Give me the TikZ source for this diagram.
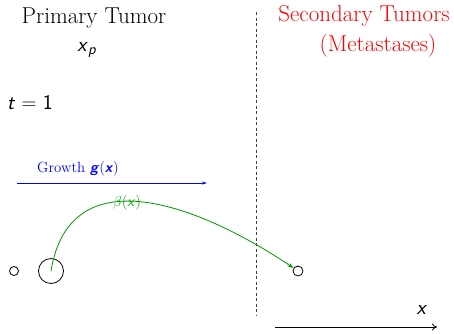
\documentclass[tikz,border=0pt]{standalone}
\usetikzlibrary{arrows.meta}
\newcommand\svar[1]{\textsf{\itshape #1}}
\begin{document}
\begin{tikzpicture}[x=1pt,y=-1pt,
  big/.style={font=\fontsize{23}{27}\selectfont},
  mth/.style={font=\fontsize{21}{25}\selectfont},
  small/.style={font=\fontsize{14.8}{17}\selectfont},
  tumor/.style={circle,draw,inner sep=0pt,line width=0.8pt}]
\useasboundingbox (0,0) rectangle (454,333);
\node[big] (pt) at (94,18) {Primary Tumor};
\node[mth] (xp) at (87,50) {\svar{x}$_{\mbox{\fontsize{15}{17}\selectfont\svar{p}}}$};
\node[mth] (t1) at (30,103) {\svar{t} $=$ \textsf{1}};
\node[big,text=red] (st1) at (364,16) {Secondary Tumors};
\node[big,text=red] (st2) at (378,46) {(Metastases)};
% dashed separator
\coordinate (d1) at (256,12);
\coordinate (d2) at (256,316);
\draw[dashed,dash pattern=on 3pt off 2.5pt,black!75,line width=0.9pt] (d1) -- (d2);
% growth arrow
\coordinate (g1) at (17,183);
\coordinate (g2) at (207,183);
\draw[blue,line width=0.8pt,-{Stealth[length=5pt,width=3pt]}] (g1) -- (g2);
\node[small,text=blue] (gl) at (78,169) {Growth \textsf{\bfseries\itshape g}(\textsf{\bfseries\itshape x})};
% tumors
\node[tumor,minimum size=9pt] (s1) at (14,271) {};
\node[tumor,minimum size=25pt] (s2) at (51,271) {};
\node[tumor,minimum size=10pt] (s3) at (298,271) {};
\draw[green!60!black,line width=0.8pt,-{Stealth[length=6pt,width=4pt]}] (s2.center) .. controls (70,155) and (200,205) .. (s3);
\node[small,text=green!65!black] (beta) at (127,203) {$\beta$(\svar{x})};
% axis
\coordinate (a1) at (275,327);
\coordinate (a2) at (437,327);
\draw[line width=0.8pt,-{To[length=5pt,width=7pt]}] (a1) -- (a2);
\node[mth] (xl) at (422,310) {\svar{x}};
\end{tikzpicture}
\end{document}
